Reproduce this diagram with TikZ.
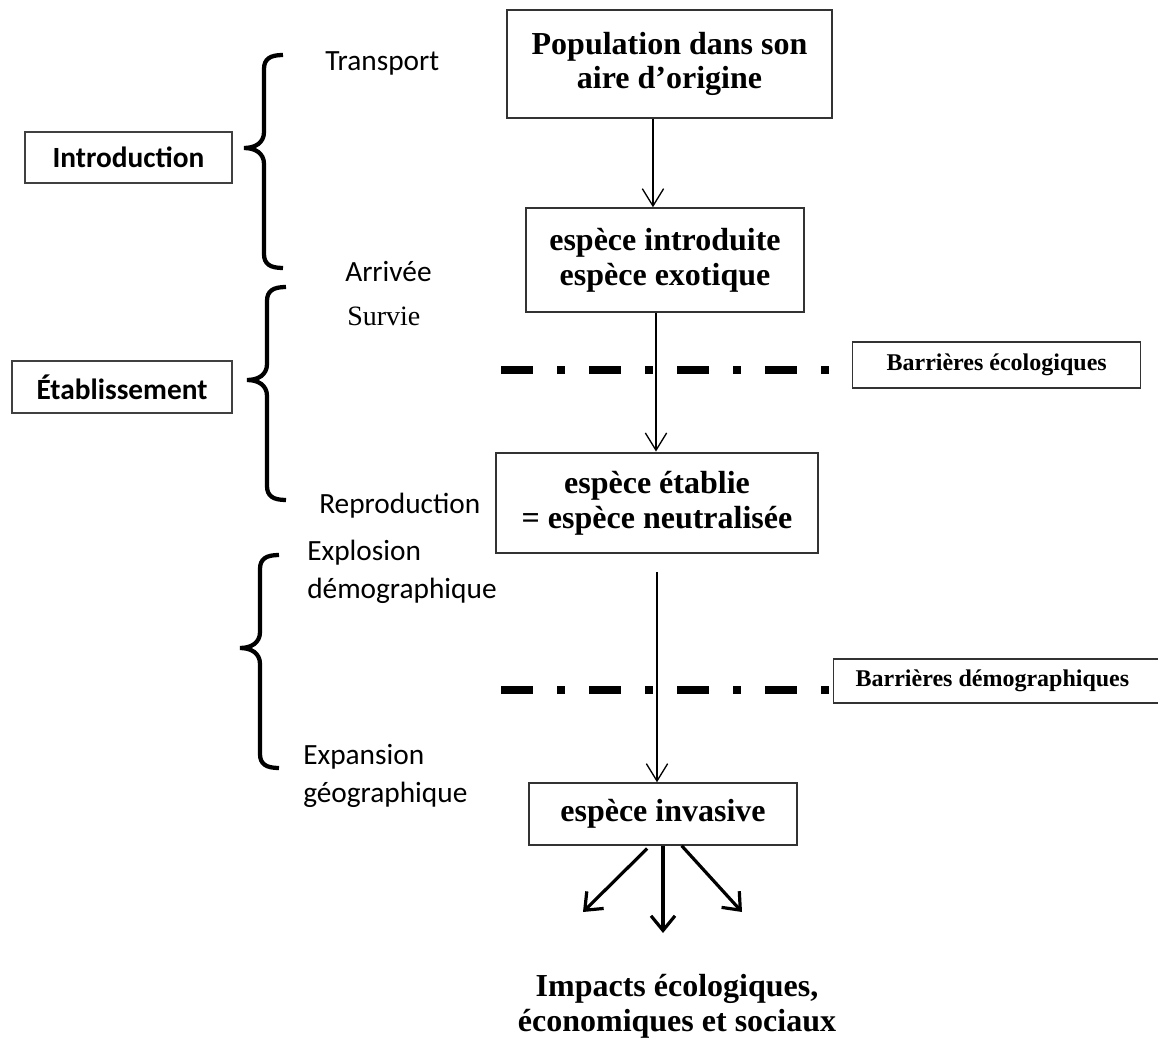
\documentclass[tikz,border=0pt]{standalone}
\usepackage{fontspec}
\setmainfont{Liberation Serif}
\newfontfamily\calfont{Carlito}
\usepackage{tikz}
\usetikzlibrary{arrows.meta, positioning, calc}
\tikzset{
  specbox/.style={rectangle,draw=black!80,line width=1.1pt,align=center,inner sep=0pt,font=\fontsize{24}{26}\selectfont\bfseries},
  phasebox/.style={rectangle,draw=black!75,line width=1.1pt,inner sep=0pt,font=\calfont\fontsize{22}{26}\selectfont\bfseries},
  barrbox/.style={rectangle,draw=black!80,line width=1pt,inner sep=0pt,font=\fontsize{18}{20}\selectfont\bfseries},
  steptext/.style={inner sep=0pt,anchor=west,align=left,font=\calfont\fontsize{22}{29}\selectfont},
  arr/.style={-{Straight Barb[length=13pt,width=16pt]},line width=1pt},
  thickarr/.style={-{Straight Barb[length=11pt,width=18pt]},line width=2.4pt},
  barrline/.style={line width=6pt,dash pattern=on 24pt off 18pt on 6pt off 18pt},
  bracestroke/.style={line width=3.2pt}
}
% vertical x, top y, bottom y, tip y
\newcommand{\phasebrace}[4]{%
  \draw[bracestroke] (#1+19,#2) .. controls (#1+6,#2) and (#1,#2+4) .. (#1,#2+14)
    -- (#1,#4-16) .. controls (#1,#4-5) and (#1-9,#4) .. (#1-20,#4)
    .. controls (#1-9,#4) and (#1,#4+5) .. (#1,#4+16)
    -- (#1,#3-14) .. controls (#1,#3-4) and (#1+6,#3) .. (#1+19,#3);}

\begin{document}
\begin{tikzpicture}[x=0.75pt,y=-0.75pt]
  \useasboundingbox (0,0) rectangle (1158,1041);

  \node[specbox,minimum width=244pt,minimum height=81pt] (pop) at (669.5,64) {Population dans son\\aire d’origine};
  \node[specbox,minimum width=208.5pt,minimum height=78pt] (exo) at (665,260) {espèce introduite\\espèce exotique};
  \node[specbox,line width=2.2pt,minimum width=241.5pt,minimum height=75pt] (estab) at (657,503) {espèce établie\\= espèce neutralisée};
  \node[specbox,minimum width=201pt,minimum height=46.5pt] (invas) at (663,814) {espèce invasive};
  \node[specbox,draw=none] (impacts) at (677,1006) {\fontsize{24}{28.5}\selectfont Impacts écologiques,\\économiques et sociaux};

  \node[phasebox,minimum width=155pt,minimum height=38pt] (introph) at (128.5,157.5) {Introduction};
  \node[phasebox,minimum width=165pt,minimum height=39pt] (estabph) at (122,387) {Établissement};

  \node[steptext] (transp) at (325,63) {Transport};
  \node[steptext] (arriv) at (345,272) {Arrivée};
  \node[steptext,font=\fontsize{21}{24}\selectfont] (surv) at (347,316) {Survie};
  \node[steptext] (repro) at (319,506) {Reproduction};
  \node[steptext] (explo) at (307,572) {Explosion\\démographique};
  \node[steptext] (expan) at (303,776) {Expansion\\géographique};

  \phasebrace{264}{55}{268}{148}
  \phasebrace{267}{287}{500}{380}
  \phasebrace{260}{555}{768}{648}

  \coordinate (eco0) at (501,370); \coordinate (eco1) at (831,370);
  \coordinate (dem0) at (501,690); \coordinate (dem1) at (831,690);
  \draw[barrline] (eco0) -- (eco1);
  \draw[barrline] (dem0) -- (dem1);
  \node[barrbox,minimum width=216pt,minimum height=34.5pt,anchor=west] (ecobar) at (852,365) {Barrières écologiques};
  \node[barrbox,anchor=west,text width=220pt,inner xsep=16.5pt,minimum height=33pt,align=flush left] (dembar) at (833,681) {Barrières démographiques};

  \coordinate (a1) at ([xshift=-12.4pt]pop.south);
  \coordinate (a2) at ([xshift=-6.75pt]exo.south);
  \draw[arr] (a1) -- (a1 |- exo.north);
  \draw[arr] (a2) -- (a2 |- estab.north);
  \draw[arr,shorten <=13pt] (estab.south) -- (estab.south |- invas.north);

  \coordinate (impL) at (583,912); \coordinate (impM) at (663,933); \coordinate (impR) at (742,912);
  \draw[thickarr,shorten <=3pt] ([xshift=-9.75pt]invas.south) -- (impL);
  \draw[thickarr] (invas.south) -- (impM);
  \draw[thickarr] ([xshift=14pt]invas.south) -- (impR);
\end{tikzpicture}
\end{document}
